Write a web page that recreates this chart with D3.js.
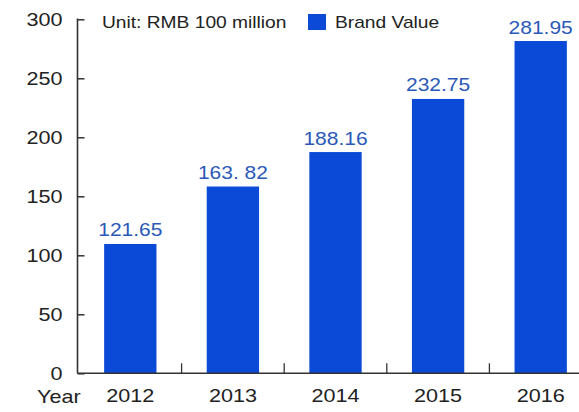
<!DOCTYPE html>
<html><head><meta charset="utf-8">
<script src="https://cdn.jsdelivr.net/npm/d3@7"></script>
<style>body{margin:0;background:#fff}svg{display:block}text{font-family:"Liberation Sans",Arial,sans-serif}</style>
</head><body>
<svg id="c" width="579" height="412"></svg>
<script>
const years = ["2012","2013","2014","2015","2016"];
const barValues = [109.6, 158.3, 187.5, 232.5, 281.6];
const labelTexts = ["121.65","163. 82","188.16","232.75","281.95"];
const yTicks = [0,50,100,150,200,250,300];
const unitText = "Unit: RMB 100 million";
const seriesName = "Brand Value";

const svg = d3.select("#c");
const x0 = 77.5, yTop = 19.3, yBot = 373.3;
const x = d3.scaleBand().domain(years).range([79, 592]).paddingInner(0.49).paddingOuter(0.245);
const y = d3.scaleLinear().domain([0,300]).range([yBot, yTop]);
const barColor = "#0a4ad6", labelColor = "#2a59b8", ink = "#222";
const SX = 1.2;
const place = (px, py) => `translate(${px},${py}) scale(${SX},1)`;

// bars
svg.selectAll("rect.bar").data(years).join("rect").attr("class","bar")
  .attr("x", d => x(d)).attr("width", x.bandwidth())
  .attr("y", (d,i) => y(barValues[i])).attr("height", (d,i) => yBot - y(barValues[i]))
  .attr("fill", barColor);

// value labels
svg.selectAll("text.val").data(years).join("text").attr("class","val")
  .attr("transform", (d,i) => place(x(d) + x.bandwidth()/2, y(barValues[i]) - 7.5))
  .attr("text-anchor","middle").attr("font-size", 17.5).attr("fill", labelColor)
  .text((d,i) => labelTexts[i]);

// y axis
const yAxis = svg.append("g").attr("transform", `translate(${x0},0)`)
  .call(d3.axisRight(y).tickValues(yTicks).tickSize(7).tickPadding(0));
yAxis.select(".domain").remove();
yAxis.selectAll(".tick line").attr("stroke", "#333").attr("stroke-width", 1.5);
yAxis.selectAll(".tick text").remove();
svg.append("line").attr("x1", x0).attr("x2", x0).attr("y1", yTop - 0.7).attr("y2", yBot)
  .attr("stroke", "#333").attr("stroke-width", 1.6);
svg.selectAll("text.yt").data(yTicks).join("text").attr("class","yt")
  .attr("transform", d => place(62.5, y(d) + 6.4)).attr("text-anchor","end")
  .attr("font-size", 18).attr("fill", ink).text(d => d);

// x axis
svg.append("line").attr("x1", x0).attr("x2", 579).attr("y1", yBot).attr("y2", yBot)
  .attr("stroke", "#333").attr("stroke-width", 1.6);
svg.selectAll("line.xt").data(years.slice(1)).join("line").attr("class","xt")
  .attr("x1", d => x(d) - (x.step()-x.bandwidth())/2).attr("x2", d => x(d) - (x.step()-x.bandwidth())/2)
  .attr("y1", yBot).attr("y2", yBot - 10).attr("stroke", "#333").attr("stroke-width", 1.3);
svg.selectAll("text.xl").data(years).join("text").attr("class","xl")
  .attr("transform", d => place(x(d) + x.bandwidth()/2, 401.5)).attr("text-anchor","middle")
  .attr("font-size", 18).attr("fill", ink).text(d => d);
svg.append("text").attr("transform", place(37, 402.5)).attr("font-size", 18).attr("fill", ink).text("Year");

// legend
svg.append("text").attr("transform", place(102, 28.3)).attr("font-size", 16).attr("fill", ink).text(unitText);
svg.append("rect").attr("x", 308).attr("y", 14).attr("width", 18).attr("height", 16).attr("fill", barColor);
svg.append("text").attr("transform", place(335, 28.3)).attr("font-size", 16).attr("fill", ink).text(seriesName);
</script>
</body></html>
